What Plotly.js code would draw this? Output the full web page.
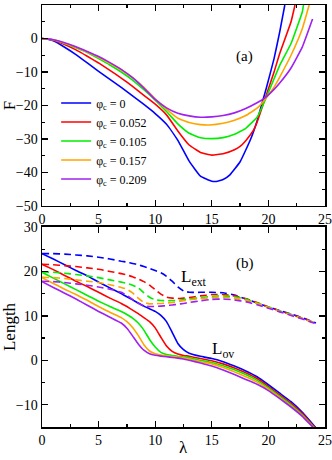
<!DOCTYPE html>
<html>
<head>
<meta charset="utf-8">
<script src="https://cdn.plot.ly/plotly-3.0.1.min.js"></script>
<style>
  body { margin: 0; background: #fff; }
  #chart { width: 332px; height: 460px; }
</style>
</head>
<body>
<div id="chart"></div>
<script>
// phi_c values and colours
const phiLabels = ["0", "0.052", "0.105", "0.157", "0.209"];
const colors = ["#0000ff", "#ff0000", "#00ee00", "#ffa500", "#a020f0"];

// (a) free energy F vs lambda
const fLam = [
  [0, 0.5, 1, 2, 3, 4, 5, 6, 7, 8, 9, 10, 11, 12, 13, 14, 15, 15.3, 16, 16.6, 17.5, 18.4, 19, 19.4, 19.8, 20.5, 21, 21.45],
  [0, 0.5, 1, 2, 3, 4, 5, 6, 7, 8, 9, 10, 11, 12, 13, 14, 15, 16, 17, 17.5, 18, 18.7, 19, 19.7, 20.5, 21, 22, 22.35],
  [0, 0.5, 1, 2, 3, 4, 5, 6, 7, 8, 9, 10, 11, 12, 13, 14, 15, 16, 17, 18, 19, 19.7, 20.5, 21, 22, 23, 23.1],
  [0, 0.5, 1, 2, 3, 4, 5, 6, 7, 8, 9, 10, 11, 12, 13, 14, 14.8, 16, 17, 18, 19, 19.7, 20.5, 21, 22, 23, 23.6],
  [0, 0.5, 1, 2, 3, 4, 5, 6, 7, 8, 9, 10, 11, 12, 13, 14, 15, 16, 17, 18, 19, 19.7, 20.5, 21, 22, 23, 23.9]
];
const fVal = [
  [0, -0.2, -0.7, -2.6, -4.8, -7.3, -9.8, -12.2, -14.6, -17.1, -19.7, -22.4, -25.6, -30.4, -36.6, -41.1, -42.6, -42.7, -42.1, -40.7, -36.8, -30.3, -24.6, -19.8, -15, -6, 2, 10],
  [0, -0.15, -0.5, -1.8, -3.4, -5.3, -7.3, -9.5, -11.8, -14.3, -17, -19.6, -22.8, -27.6, -31.8, -34, -34.8, -34.4, -33.2, -32.2, -30.5, -27.3, -25, -18, -10, -4.5, 5, 10],
  [0, -0.12, -0.4, -1.5, -2.8, -4.2, -6.0, -7.9, -10, -12.4, -15.3, -18.4, -21.8, -25.5, -28.3, -29.6, -29.9, -29.6, -28.6, -26.8, -23.5, -18.5, -12, -8, -1.5, 8, 10],
  [0, -0.12, -0.4, -1.4, -2.6, -4.0, -5.6, -7.4, -9.4, -11.7, -14.6, -18, -21.1, -23.8, -25.1, -25.7, -25.8, -25.3, -24.4, -23, -20.8, -18.2, -14.5, -11.5, -5, 3, 10],
  [0, -0.12, -0.4, -1.3, -2.5, -3.9, -5.4, -7.2, -9.2, -11.7, -14.8, -18.2, -20.7, -22.3, -23.1, -23.5, -23.4, -23, -22.2, -20.9, -19.2, -17.7, -15.2, -13.3, -8.8, -2.5, 5.8]
];

// (b) L_ov (solid) and L_ext (dashed) vs lambda
const lLam = [0, 1, 2, 3, 4, 5, 6, 7, 7.5, 8, 8.5, 9, 9.5, 10, 10.5, 11, 11.5, 12, 12.5, 13, 14, 15, 16, 17, 18, 19, 20, 21, 22, 23, 24, 24.2];
const lovVal = [
  [24, 22.8, 21.5, 20.2, 19, 17.6, 16.3, 15, 14.3, 13.6, 12.9, 12.2, 11.6, 11, 10.1, 8.7, 6.3, 3.8, 2.4, 1.6, 0.9, 0.4, -0.3, -1.3, -2.4, -3.7, -5.5, -7.4, -9.3, -11.7, -14.6, -15.2],
  [21.6, 20.4, 19.1, 17.8, 16.6, 15.3, 14, 12.8, 12.1, 11.3, 10.5, 9.6, 8.7, 7.3, 5.2, 3.2, 2, 1.4, 1.1, 0.9, 0.4, -0.1, -0.8, -1.7, -2.8, -4.1, -5.9, -7.8, -9.7, -12, -14.8, -15.3],
  [19.8, 18.5, 17.2, 15.9, 14.6, 13.3, 12.1, 11, 10.3, 9.5, 8.4, 6.8, 4.7, 3, 1.8, 1.3, 1.1, 0.9, 0.75, 0.6, 0, -0.5, -1.2, -2.1, -3.2, -4.5, -6.2, -8.1, -10, -12.3, -15, -15.4],
  [18.6, 17.3, 16, 14.8, 13.5, 12.1, 10.8, 9.6, 8.7, 7.4, 5.6, 3.5, 2.1, 1.5, 1.2, 1, 0.85, 0.7, 0.55, 0.3, -0.3, -0.8, -1.6, -2.6, -3.7, -4.9, -6.5, -8.4, -10.3, -12.5, -15.1, -15.5],
  [17.7, 16.4, 15.1, 13.8, 12.4, 11, 9.7, 8.4, 7.2, 5.5, 3.7, 2.3, 1.5, 1.15, 0.95, 0.8, 0.65, 0.5, 0.3, 0, -0.6, -1.3, -2.2, -3.2, -4.3, -5.4, -6.8, -8.6, -10.5, -12.6, -15.2, -15.6]
];
const lextVal = [
  [24, 24, 23.9, 23.7, 23.5, 23.2, 22.8, 22.3, 22.1, 21.8, 21.5, 21.1, 20.7, 20.2, 19.7, 18.9, 17.8, 16.5, 15.6, 15.3, 15.3, 15.3, 15.2, 14.7, 13.8, 12.9, 12, 11.2, 10.4, 9.6, 8.6, 8.4],
  [21.6, 21.5, 21.3, 21.1, 20.8, 20.5, 20, 19.5, 19.2, 18.8, 18.3, 17.7, 16.9, 15.9, 14.9, 14.2, 14, 13.9, 14, 14.1, 14.5, 14.8, 14.8, 14.5, 13.9, 13, 12, 11.1, 10.3, 9.5, 8.5, 8.3],
  [19.9, 19.8, 19.6, 19.3, 19, 18.6, 18.1, 17.6, 17.3, 16.9, 16.3, 15.2, 14.2, 13.6, 13.45, 13.4, 13.45, 13.5, 13.65, 13.8, 14.1, 14.4, 14.5, 14.3, 13.8, 12.9, 12, 11.1, 10.3, 9.4, 8.5, 8.3],
  [18.7, 18.6, 18.4, 18.1, 17.8, 17.5, 17, 16.4, 16, 15.2, 14, 13, 12.7, 12.75, 12.8, 12.9, 13, 13.2, 13.4, 13.6, 13.9, 14.1, 14.2, 14, 13.5, 12.8, 11.9, 11, 10.2, 9.4, 8.5, 8.3],
  [17.8, 17.7, 17.5, 17.2, 16.9, 16.5, 16, 15.3, 14.6, 13.7, 12.8, 12.2, 12.1, 12.1, 12.2, 12.3, 12.45, 12.6, 12.8, 13, 13.4, 13.7, 13.8, 13.6, 13.2, 12.5, 11.7, 10.9, 10.1, 9.3, 8.4, 8.2]
];

const serif = "Liberation Serif, Times New Roman, serif";
var data = [];

for (let i = 0; i < phiLabels.length; i++) {
    data.push({
        x: fLam[i], y: fVal[i], xaxis: 'x', yaxis: 'y',
        type: 'scatter', mode: 'lines',
        line: {color: colors[i], width: 1.6, shape: 'spline', smoothing: 0.35},
        name: `φ<sub>c</sub> = ${phiLabels[i]}`
    });
}
for (let i = 0; i < phiLabels.length; i++) {
    data.push({
        x: lLam, y: lextVal[i], xaxis: 'x2', yaxis: 'y2',
        type: 'scatter', mode: 'lines', showlegend: false,
        line: {color: colors[i], width: 1.6, dash: '7px,4px', shape: 'spline', smoothing: 0.3}
    });
    data.push({
        x: lLam, y: lovVal[i], xaxis: 'x2', yaxis: 'y2',
        type: 'scatter', mode: 'lines', showlegend: false,
        line: {color: colors[i], width: 1.6, shape: 'spline', smoothing: 0.3}
    });
}

function axis(extra) {
    return Object.assign({
        showline: true, linecolor: '#000', linewidth: 1.5, mirror: 'allticks',
        ticks: 'inside', ticklen: 6, tickwidth: 1.3, tickcolor: '#000',
        showgrid: false, zeroline: false,
        tickfont: {family: serif, size: 14, color: '#000'}
    }, extra);
}

var layout = {
    width: 332, height: 460,
    margin: {l: 42, r: 7, t: 5, b: 33},
    paper_bgcolor: '#fff', plot_bgcolor: '#fff',
    font: {family: serif, color: '#000'},
    xaxis: axis({anchor: 'y', domain: [0, 1], range: [0, 25], dtick: 5,
        minor: {ticks: 'inside', ticklen: 3, dtick: 2.5, tickcolor: '#000'}}),
    yaxis: axis({anchor: 'x', domain: [0.5237, 1], range: [-50, 10], dtick: 10,
        minor: {ticks: 'inside', ticklen: 3, dtick: 5, tickcolor: '#000'},
        title: {text: 'F', font: {family: serif, size: 17}, standoff: 6}}),
    xaxis2: axis({anchor: 'y2', domain: [0, 1], range: [0, 25], dtick: 5,
        minor: {ticks: 'inside', ticklen: 3, dtick: 2.5, tickcolor: '#000'}}),
    yaxis2: axis({anchor: 'x2', domain: [0, 0.474], range: [-15, 30], dtick: 10,
        minor: {ticks: 'inside', ticklen: 3, dtick: 5, tickcolor: '#000'},
        title: {text: 'Length', font: {family: serif, size: 17}, standoff: 6}}),
    legend: {
        x: 0.05, y: 0.802, xanchor: 'left', yanchor: 'top',
        bgcolor: 'rgba(0,0,0,0)', borderwidth: 0,
        font: {family: serif, size: 12, color: '#000'},
        tracegroupgap: 0
    },
    annotations: [
        // x-axis title of panel (b), placed low like the reference
        {xref: 'paper', yref: 'paper', x: 0.5, y: -0.077, yanchor: 'bottom',
         text: 'λ', showarrow: false, font: {family: serif, size: 17}},
        {xref: 'x', yref: 'y', x: 17.9, y: -5.5, text: '(a)', showarrow: false,
         font: {family: serif, size: 15}},
        {xref: 'x2', yref: 'y2', x: 17.9, y: 21.7, text: '(b)', showarrow: false,
         font: {family: serif, size: 15}},
        {xref: 'x2', yref: 'y2', x: 13.4, y: 18.6, text: 'L<sub>ext</sub>', showarrow: false,
         font: {family: serif, size: 17}},
        {xref: 'x2', yref: 'y2', x: 16, y: 2.4, text: 'L<sub>ov</sub>', showarrow: false,
         font: {family: serif, size: 17}}
    ]
};

Plotly.newPlot('chart', data, layout, {staticPlot: true, displayModeBar: false});
</script>
</body>
</html>
